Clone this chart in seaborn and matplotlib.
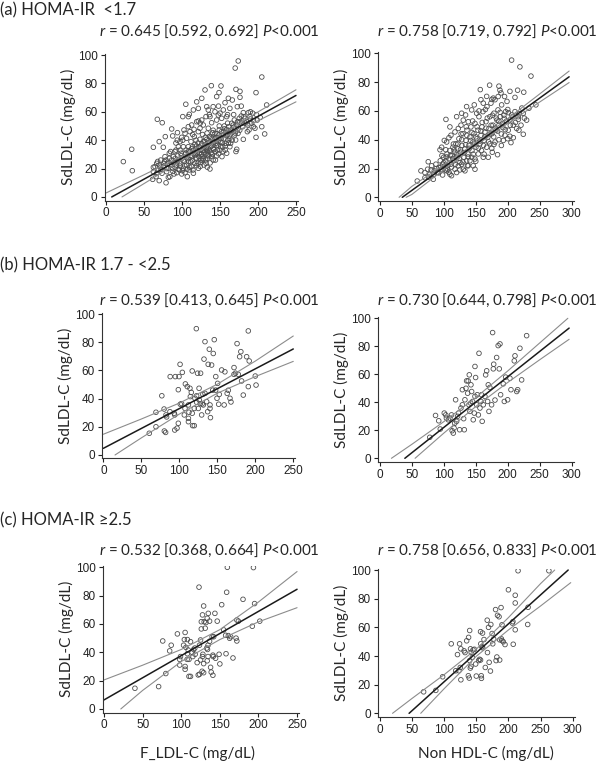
import matplotlib
matplotlib.use("Agg")
import matplotlib.pyplot as plt
import pandas as pd
import seaborn as sns

# ---------------- data ----------------
# (a) HOMA-IR <1.7, F_LDL-C vs SdLDL-C
a1_pts = [
    (174, 95.8), (170, 90.8), (205, 84.5), (22.8, 24.9), (33.8, 33.6), (34.6, 18.5), (67.5, 54.7), (74, 52.3),
    (86.4, 47.9), (62.3, 35), (70, 39), (75.4, 35), (78, 42.5), (87.7, 43), (62.3, 20.9), (61.4, 12.4),
    (65.8, 14.3), (70, 11.5), (79, 10), (82, 13.8), (94, 45.3), (101, 56.6), (105, 65.3), (109.6, 58.2),
    (121.5, 62.4), (121.5, 53.5), (130.3, 75.4), (138.6, 78.4), (151.3, 78.2), (145.6, 70.7), (148.7, 73.5),
    (134.6, 61.3), (141, 63.6), (150, 59), (156.6, 66.4), (161, 69.5), (166.2, 68.3), (171, 75.8), (176.3, 74.4),
    (176.3, 70.2), (172.8, 63.6), (180.7, 59.4), (187.3, 59.4), (190, 60), (193, 59), (197.4, 73.5), (205, 49.5),
    (194, 53.8), (197.4, 42), (208.8, 44.4), (211.4, 64.8), (180.7, 40.6), (171, 32), (172, 33.6), (158.8, 30.8),
    (163, 35.4), (141, 26), (133.3, 21), (136.8, 19.7), (132.5, 33), (125, 26), (118.4, 40), (110.5, 46),
    (106, 41.3), (102.6, 47.2), (97.4, 39), (95.2, 35.4), (92, 33), (88.6, 28.4), (86.4, 26), (84.2, 22.5),
    (82, 20.2), (79.8, 17.8), (75.4, 21.4), (73.7, 16.7), (68.9, 19), (66.7, 16.7), (72, 26), (77.6, 28.4),
    (83.3, 30.8), (90.8, 32), (97.4, 33),
    (84, 14.3), (89.5, 16.2), (93, 17.1), (96.5, 19), (99.6, 16.2), (101.8, 20.2), (104, 17.1), (106, 22.5),
    (107, 14.3), (109.6, 19), (111.4, 24.9), (112.7, 21.4), (115, 16.7), (117, 23.7), (119.3, 27.2), (121.5, 20.2),
    (122.8, 30.8), (124.6, 24.2), (126.3, 28.4), (128, 33), (129, 22.5), (130.3, 36.6), (131.6, 30.3), (133.3, 27.2),
    (134.6, 34.3), (136.8, 37.8), (138.2, 30.8), (139.5, 41.3), (141.2, 34.3), (143.4, 44.8), (144.7, 37.8),
    (146.5, 33), (147.8, 41.3), (149, 47.2), (150.9, 39), (152.6, 28.4), (154.4, 43.7), (155.7, 50), (157.9, 37.8),
    (159.6, 43.7), (161.4, 49.5), (163, 41.3), (165.4, 51.9), (167.5, 46), (168.9, 54.2), (170.6, 40.1),
    (174.1, 48.4), (175.4, 55.4), (178.5, 51.9), (181.6, 56.6), (185, 53), (188.2, 47.2), (191.7, 51.9), (196, 48.4),
    (62.3, 17.8), (64.5, 21.4), (66.7, 23.7), (70, 22.5), (72.4, 19.5), (76.3, 23.7), (79, 26), (81, 23.7),
    (83.3, 27.2), (86.4, 22.5), (87.7, 20.2), (89.5, 24.2), (91.2, 27.2), (93, 22.5), (94.3, 28.9), (95.6, 26),
    (97.4, 21.8), (98.7, 30.8), (100, 27.2), (101.8, 35.4), (103, 24.9), (104.4, 30.3), (105.3, 33), (107, 28.4),
    (108.3, 35.4), (108.8, 24.9), (110.5, 31.9), (111.8, 39), (113.2, 28.9), (114, 35.4), (115.4, 33), (116.2, 42.5),
    (117.5, 29.6), (118.9, 35.9), (120.2, 33), (121, 23.7), (122.4, 35.4), (123.7, 40.6), (125, 33), (126, 30.3),
    (127.2, 26), (128, 39), (129.4, 35.4), (130.7, 42), (131.6, 23.7), (132.5, 40.6), (133.8, 31.9), (135, 28.9),
    (136, 42.5), (137.7, 35.4), (139, 28.4), (140.4, 45.3), (142, 39), (143.4, 31.9), (144.7, 42), (145.6, 28.9),
    (147, 36.6), (148.7, 43.7), (150, 33), (151.8, 41.3), (153.5, 35.4), (155.3, 46), (157, 33), (158.8, 47.6),
    (160.5, 40), (162.3, 46), (164, 37.8), (165.8, 47), (167.5, 50.7), (169.3, 43.7), (172, 50.7), (173.7, 44.8),
    (176.3, 53), (179.8, 49.5), (182.9, 55.4), (186.4, 50.7), (189.5, 56.6), (194, 49.5), (199, 54.2),
    (93.8, 40), (99.6, 42), (104, 44.8), (108.3, 49.5), (112.7, 50.7), (115.8, 47.6), (119.3, 53), (121.5, 46),
    (123.7, 48.4), (126, 54.2), (128, 50.7), (131.6, 56.6), (134.6, 48.4), (136.8, 56.6), (139, 52.3), (143.4, 60),
    (145.6, 54.2), (147.8, 57.7), (152.2, 55.4), (154.4, 61.3), (158.8, 56.6), (163, 62.4), (108.3, 56.6),
    (115, 61.3), (119.3, 67), (132.5, 63.6), (126, 69.5),
    (88, 18), (91, 21), (93.5, 25), (95, 19.5), (97, 23.5), (99, 29), (100.5, 18.5), (102, 26), (103.5, 22),
    (105, 31), (106.5, 19.5), (108, 27), (109, 32.5), (110, 21), (111, 29), (112.5, 34), (113.5, 25.5),
    (114.5, 19), (116, 31), (117, 37), (118, 27.5), (119, 22), (120, 31), (121, 38), (122, 28.5), (123, 35),
    (124, 21.5), (125, 30), (126, 37.5), (127, 44), (128, 27), (129, 31.5), (130, 39), (131, 26), (132, 34),
    (133, 45), (134, 29.5), (135, 38.5), (136, 33), (137, 24), (138, 42), (139, 36), (140, 30), (141, 47),
    (142, 33.5), (143, 41), (144, 26), (145, 36), (146, 44.5), (147, 39), (148, 30.5), (149, 50), (150, 42),
    (151, 35.5), (152, 46), (153, 38), (154, 32), (155, 41), (156, 48), (157, 36), (158, 44), (160, 52),
    (161, 38), (162, 43), (164, 47), (166, 40), (168, 49), (170, 45), (173, 53), (176, 47), (178, 57), (183, 52),
    (186, 46), (190, 55), (198, 58), (203, 56), (80, 20), (77, 25), (72, 21), (68, 25), (85, 32), (92, 38),
    (101, 40), (114, 44), (124, 52), (136, 58), (148, 64), (160, 58), (168, 58), (178, 64),
]
a1_fit = [(7.5, 0), (250, 71.5)]
a1_upper = [(0, 2.8), (50, 15.6), (100, 28.8), (150, 43.5), (200, 59.9), (250, 75.5)]
a1_lower = [(21, 0), (50, 9.4), (100, 25.8), (150, 40.5), (200, 53.7), (250, 67)]

# (a) HOMA-IR <1.7, Non HDL-C vs SdLDL-C
a2_pts = [
    (206, 95.3), (219, 90.6), (236.3, 84.2), (244, 64.2), (103.3, 54.1), (64.2, 18.4), (58.4, 11.3), (75.6, 24.7),
    (70.4, 13.6), (83.5, 12.5), (94, 33), (100.7, 39.5), (108, 41.4), (157, 74.8), (171.6, 77.9), (186.2, 77.2),
    (187.8, 74.4), (189.4, 72.5), (203.4, 73.6), (215.4, 74.4), (225, 73), (211.3, 69.4), (201, 58.8), (216.5, 54.1),
    (224.3, 43.8), (217.5, 46.6), (208.7, 41.4), (203.4, 42.4), (200, 40.7), (186.2, 40), (184, 29.6), (178.4, 36.7),
    (175.8, 31.3), (169.5, 27.8), (148.7, 19.5), (146, 21.9), (133, 18.4),
    (70.4, 17.2), (74.6, 19.5), (78.2, 16), (80.9, 21.9), (85, 18.4), (87.6, 23), (90.2, 17.2), (92.3, 20.7),
    (94.4, 25.4), (96.5, 19.5), (98, 23), (99.6, 27.8), (101.7, 21.9), (103.3, 25.4), (104.9, 30.1), (105.9, 19.5),
    (108, 26.6), (109.5, 32.5), (111.1, 23), (112.7, 29), (114.2, 34.8), (115.8, 25.4), (117.4, 31.3), (118.9, 37.2),
    (120.5, 27.8), (122, 33.6), (123.6, 40.7), (125.2, 24.2), (126.8, 31.3), (128.3, 36), (129.9, 44.2), (131.5, 27.8),
    (133, 33.6), (134.6, 39.5), (136.2, 46.6), (137.7, 30.1), (139.3, 36), (140.8, 41.9), (142.4, 48.9), (144, 32.5),
    (145.5, 38.4), (147.1, 44.2), (148.7, 51.3), (150.2, 34.8), (151.8, 40.7), (153.4, 46.6), (154.9, 56),
    (156.5, 37.2), (158.1, 43.1), (159.6, 48.9), (161.2, 59.5), (162.8, 39.5), (164.3, 45.4), (165.9, 52.5),
    (167.5, 63), (169, 41.9), (170.6, 47.8), (172.1, 56), (173.7, 65.4), (175.3, 44.2), (176.9, 50.1), (178.4, 58.4),
    (180, 67.8), (181.5, 46.6), (183.1, 53.6), (184.7, 60.7), (186.2, 50.1), (188.3, 56), (190.4, 64.2),
    (192.5, 48.4), (194.6, 54.8), (196.7, 59.5), (198.8, 66.6), (200.8, 46.6), (203.4, 53.6), (206, 57.2),
    (208.7, 50.1), (211.3, 59.5), (213.9, 47.8), (216.5, 56), (220.7, 50.1), (224.3, 58.4), (229.5, 53.6),
    (233.2, 61.9),
    (104.4, 18.4), (109.5, 16), (117.4, 19.5), (120, 17.2), (122.6, 21.9), (127.8, 23), (130.4, 19.5), (135.6, 25.4),
    (138.2, 21.9), (140.8, 25.4), (143.5, 27.8), (148.7, 26.6), (153.9, 30.1), (159, 32.5), (161.7, 27.8),
    (167, 34.8), (172, 37.2), (180, 38.4), (193, 39.5), (195.6, 43.1),
    (96.5, 34.8), (104.4, 38.4), (111.1, 43.1), (117.4, 45.4), (122.6, 47.8), (126.8, 50.1), (130.4, 53.6),
    (134, 57.2), (138.2, 52.5), (143.5, 60.7), (147.6, 64.2), (151.3, 58.4), (158, 67.8), (161.7, 65.4),
    (167, 70.1), (177.4, 68.9), (120, 56), (127.8, 58.4), (135.6, 63), (109.5, 48.9),
    (92, 17), (95, 21), (98, 15.5), (100, 24), (102, 19), (104, 28), (106, 22), (108, 17.5), (110, 29),
    (112, 21), (114, 27), (116, 33), (118, 23), (120, 29.5), (122, 37), (124, 27), (126, 33), (128, 40),
    (130, 24.5), (132, 31), (134, 36.5), (136, 43), (138, 28), (140, 34), (142, 39.5), (144, 45), (146, 30),
    (148, 37), (150, 42), (152, 49), (154, 34), (156, 39), (158, 46), (160, 52), (162, 36), (164, 42),
    (166, 48), (168, 55), (170, 38.5), (172, 44), (174, 50), (176, 57), (178, 42), (180, 48), (182, 55),
    (184, 46), (186, 53), (188, 59), (190, 44), (192, 51), (194, 57), (196, 47), (198, 53), (200, 61),
    (204, 50), (208, 56), (212, 52), (218, 58), (222, 62), (226, 55), (88, 20), (84, 16), (80, 19), (76, 14),
    (97, 29), (103, 33), (115, 37), (127, 44), (135, 49), (145, 53), (155, 60), (165, 61), (175, 68), (185, 70),
    (195, 70), (112, 15), (125, 19), (137, 22), (150, 25), (163, 30), (175, 34), (190, 36), (205, 38),
]
a2_fit = [(35, 0), (296, 83.7)]
a2_upper = [(30, 0), (50, 7.6), (100, 22.6), (150, 37.9), (200, 54.7), (250, 71.8), (296, 87.7)]
a2_lower = [(41, 0), (50, 2), (100, 19.2), (150, 35.9), (200, 51.3), (250, 66.2), (296, 79.7)]

# (b) HOMA-IR 1.7 - <2.5
b1_pts = [
    (60.5, 15.4), (69.3, 30.3), (69.3, 20), (77, 42), (80, 32.6), (80.3, 17), (82, 16), (83.3, 27), (82.5, 28.4),
    (87.7, 30.7), (88, 55.6), (93.4, 29.6), (94, 28.4), (94.7, 55.6), (94, 17.7), (97, 19), (98.7, 22.5),
    (99.6, 55.6), (98.7, 46.3), (101, 64.3), (101.3, 36), (103, 36.4), (104, 58.6), (106.6, 28.4), (108, 50.4),
    (107.5, 33), (110.5, 48.5), (112, 35.5), (112, 26), (112, 23.6), (114, 47.3), (115.8, 44.4), (114.5, 41.4),
    (112.7, 30.3), (117, 29.6), (117.5, 20.8), (117, 59.6), (119.7, 20.8), (119.7, 33), (120.6, 40.2), (122.4, 89.6),
    (122.8, 42), (122.8, 37.4), (124, 58), (125, 33), (126, 47.3), (126.3, 39), (128, 58), (127.6, 36.4),
    (130, 36.2), (129.4, 28.4), (131, 43), (131.6, 35.5), (132.5, 68), (133.8, 80.4), (133.8, 43.7), (136, 37.8),
    (137.3, 30.7), (138, 64.3), (139.5, 75), (140.4, 35.5), (140.4, 33), (141, 26.5), (142.5, 63.8), (144, 46),
    (144.7, 72), (146, 81.8), (147.8, 46), (148, 55.6), (149.6, 40.2), (150.4, 50.8), (151.8, 36), (152.6, 43),
    (155.7, 60.3), (159, 35.5), (160, 59), (163, 43.7), (164.5, 45.9), (166.7, 40.2), (168, 37.6), (172, 62),
    (172, 57.2), (174, 58), (176, 79), (177.6, 57.2), (179.4, 69.7), (181, 73.3), (182, 52.5), (184.2, 42.5),
    (188.6, 69.7), (190.8, 88), (192, 66.7), (190.8, 48.5), (200, 56), (201, 49.6),
]
b1_fit = [(0, 4.7), (250, 75.2)]
b1_upper = [(0, 14.7), (50, 25.5), (100, 36.8), (150, 50.2), (200, 66.6), (250, 84.4)]
b1_lower = [(15.4, 0), (50, 12.1), (100, 29), (150, 43.8), (200, 55.6), (250, 66.4)]

b2_pts = [
    (78, 15), (87, 30.6), (92, 26.8), (94.4, 20.9), (100.7, 32.3), (103, 31), (104, 28.7), (107, 27.5),
    (109.5, 28.7), (112, 31), (113, 19.7), (114.8, 18), (116, 21.6), (117, 25), (118.4, 41.8), (120, 26.4),
    (121.5, 30), (123, 32.3), (124.7, 20.4), (126.8, 35.9), (129, 38.2), (129, 49), (131, 28.3), (132, 20.4),
    (133, 41.8), (134.6, 50), (135.6, 55.3), (137.2, 46.5), (138, 55.3), (139.8, 59.6), (139.3, 38.2),
    (140.8, 33.5), (142, 39.4), (142.4, 52.5), (143.5, 47.7), (145, 40.6), (146, 27.5), (147.6, 32.3),
    (148.7, 65.6), (148.7, 44.2), (149.7, 57.7), (151.3, 38.2), (152.3, 45.4), (154, 31), (155, 75), (156.5, 35.9),
    (158, 40.6), (159, 45.4), (160, 26.4), (161.7, 38.2), (164.3, 44.2), (165.4, 59.6), (167, 62.5), (168.5, 40.6),
    (169.5, 52.5), (170.6, 33.5), (172, 50.6), (174.7, 38.2), (176.3, 89.8), (177.4, 63.9), (178, 67.2),
    (180, 41.6), (182.6, 72), (185, 80.5), (187.8, 81.7), (186.7, 63.9), (188.8, 45.4), (193, 53.2), (194.6, 40.6),
    (196.7, 58), (199.8, 41.8), (203.4, 57.2), (205, 49), (211.3, 73.2), (210.2, 69.6), (214, 47.7), (215.5, 49),
    (219, 78.6), (221.7, 56), (229.5, 87.6),
]
b2_fit = [(39, 0), (296, 93)]
b2_upper = [(18, 0), (50, 10), (100, 26.2), (150, 43.4), (200, 62.4), (250, 82.4), (294, 100)]
b2_lower = [(55, 0), (100, 18), (150, 37), (200, 54.2), (250, 70.4), (296, 85)]

# (c) HOMA-IR >=2.5
c1_pts = [
    (40, 14.6), (70.7, 15.8), (76, 48), (80, 25), (85, 41), (87, 45), (95, 53), (99, 37), (98, 35), (103, 45),
    (104, 49), (105, 54), (108, 49), (106, 43.5), (109, 41.6), (108, 39), (110, 35), (107.6, 35), (98, 31),
    (105, 30), (105, 28), (110, 23), (112, 23), (112, 47.5), (114, 40), (115, 37), (118, 38.6), (116, 42),
    (117.6, 43), (120.6, 32.7), (123, 86), (123.6, 45), (125, 48.7), (126, 56.5), (126, 61.6), (127.5, 66.4),
    (129, 72.7), (129.7, 61.6), (131, 57), (132, 61), (133.6, 64), (135, 67.5), (136.7, 62), (136.7, 47.8),
    (134.7, 45), (133, 43), (134, 42), (127.5, 37), (128, 38.6), (125, 34.6), (129, 32), (123.6, 24.5), (122, 24),
    (127, 26.6), (129, 25.6), (133.6, 34), (134.7, 37), (138, 29.4), (138.8, 26), (141, 23.8), (141.4, 37),
    (144.5, 35.8), (141, 38), (146.6, 62), (143.6, 67.5), (140, 51), (142, 51), (150, 31.8), (149, 38.6),
    (152.4, 73.6), (155, 55.8), (157.5, 52), (158, 39), (159.7, 100), (158.8, 82.4), (161, 51.8), (162.7, 49.9),
    (164, 51), (167, 36), (171, 50), (172, 48), (172, 62.8), (174, 62), (180, 77.4), (192, 58.4), (193.5, 99.8),
    (195, 74.4), (201.7, 62),
]
c1_fit = [(0, 6.4), (250, 84.5)]
c1_upper = [(0, 20.5), (50, 30.9), (100, 42), (150, 56), (200, 75.5), (250, 97)]
c1_lower = [(21.7, 0), (50, 13.1), (100, 33.5), (150, 49), (200, 61.5), (250, 71.5)]

c2_pts = [
    (68, 15), (87, 16), (97.6, 25.5), (111, 48.5), (120.7, 41), (124, 48.5), (126, 45), (125, 32), (123, 29.7),
    (126, 23.4), (131, 43.6), (132.5, 42.4), (135, 50.6), (138, 53), (139.7, 57.8), (141, 45), (139.7, 36.8),
    (141.8, 32.8), (140.7, 31.6), (137.6, 26.2), (139, 24.6), (142, 42.6), (143.8, 39), (145, 44.3), (147, 44.7),
    (149, 34.4), (150, 26), (153.6, 36.8), (155, 37.7), (156.6, 37.2), (157.7, 26.2), (158, 24.4), (156.6, 57),
    (159.7, 56), (157, 48.5), (158.7, 46.4), (160, 45.7), (162, 51.5), (164, 32), (167.4, 42.4), (167, 65),
    (169, 60), (170, 35.6), (172.6, 62), (172, 29.5), (174.6, 55.7), (175.6, 48.5), (177, 51.8), (180, 72.4),
    (182, 39.3), (183, 68.4), (185.4, 67.4), (186.4, 51.3), (188.5, 73.8), (189, 52), (190, 61.8), (190, 50.8),
    (192, 49.9), (194.7, 48), (186.4, 37.2), (180.8, 36.8), (200, 86.2), (206, 63), (207, 64), (207.5, 48.2),
    (210.6, 82.4), (210.6, 77), (210.6, 58.3), (215, 99.5), (230, 62), (230.6, 74), (263, 99.5), (118, 29.7),
]
c2_fit = [(45.4, 0), (293, 100)]
c2_upper = [(19.6, 0), (50, 10.4), (100, 27), (150, 44.8), (200, 66.8), (250, 90.5), (272, 100)]
c2_lower = [(63.5, 0), (100, 17.2), (150, 39.8), (200, 58.2), (250, 74.9), (297, 91.2)]

row_titles = ["(a) HOMA-IR  <1.7", "(b) HOMA-IR 1.7 - <2.5", "(c) HOMA-IR \u22652.5"]
r_texts = [
    ["0.645 [0.592, 0.692]", "0.758 [0.719, 0.792]"],
    ["0.539 [0.413, 0.645]", "0.730 [0.644, 0.798]"],
    ["0.532 [0.368, 0.664]", "0.758 [0.656, 0.833]"],
]
x_titles = ["F_LDL-C (mg/dL)", "Non HDL-C (mg/dL)"]

# ---------------- drawing ----------------
sns.set_style("ticks")
plt.rcParams["font.family"] = ["Liberation Sans", "DejaVu Sans"]
plt.rcParams["mathtext.fontset"] = "custom"
plt.rcParams["mathtext.it"] = "Lato:italic"
plt.rcParams["mathtext.rm"] = "Lato"

W, H = 600, 763
fig = plt.figure(figsize=(6, 7.63), dpi=100)
LBL = dict(family=["Lato", "DejaVu Sans"], fontsize=11)


def add_ax(l, r, b, t):
    return fig.add_axes([l / W, 1 - b / H, (r - l) / W, (b - t) / H])


panels = [
    (a1_pts, a1_fit, a1_upper, a1_lower, 250, (104.5, 297.5, 200.5, 53.6)),
    (a2_pts, a2_fit, a2_upper, a2_lower, 300, (378, 573.6, 200.9, 51.9)),
    (b1_pts, b1_fit, b1_upper, b1_lower, 250, (101.8, 294.8, 458.5, 312.6)),
    (b2_pts, b2_fit, b2_upper, b2_lower, 300, (378, 573.6, 461.8, 316.9)),
    (c1_pts, c1_fit, c1_upper, c1_lower, 250, (102.5, 298.6, 712.5, 565.9)),
    (c2_pts, c2_fit, c2_upper, c2_lower, 300, (378, 574.6, 716.9, 568.6)),
]

for pts, fit, upper, lower, xmax, box in panels:
    ax = add_ax(*box)
    df = pd.DataFrame(pts, columns=["x", "y"])
    sns.scatterplot(data=df, x="x", y="y", ax=ax, marker="o", s=11,
                    facecolors="none", edgecolor="#4d4d4d", linewidth=0.6)
    for line, col, lw in [(upper, "#8c8c8c", 0.8), (lower, "#8c8c8c", 0.8), (fit, "#1a1a1a", 1.1)]:
        ldf = pd.DataFrame(line, columns=["x", "y"])
        sns.lineplot(data=ldf, x="x", y="y", ax=ax, color=col, lw=lw,
                     sort=False, estimator=None)
    pad = 2 if xmax == 250 else 3
    ax.set_xlim(-pad, xmax + pad)
    ax.set_ylim(-2.5, 101)
    ax.set_xticks(range(0, xmax + 1, 50))
    ax.set_yticks(range(0, 101, 20))
    ax.tick_params(labelsize=8.5, length=3, width=0.8, pad=2, colors="#222222")
    for s in ["left", "bottom"]:
        ax.spines[s].set_linewidth(0.8)
        ax.spines[s].set_color("#333333")
    sns.despine(ax=ax)
    ax.set_xlabel("")
    ax.set_ylabel("SdLDL-C (mg/dL)", **LBL)
    width_px = box[1] - box[0]
    ax.yaxis.set_label_coords(-29 / width_px, 0.5)

title_y = [10, 265, 520]
r_y = [31, 300, 550]
for i in range(3):
    fig.text(0 / W, 1 - title_y[i] / H, row_titles[i], ha="left", va="center",
             family=["Lato", "DejaVu Sans"], fontsize=12)
    for j, cx in enumerate([209, 487]):
        fig.text(cx / W, 1 - r_y[i] / H,
                 "$\\mathit{r}$ = " + r_texts[i][j] + " $\\mathit{P}$<0.001",
                 ha="center", va="center", family=["Lato", "DejaVu Sans"], fontsize=11)

for cx, t in zip([198, 486], x_titles):
    fig.text(cx / W, 1 - 753 / H, t, ha="center", va="center", **LBL)

fig.savefig("out.png", dpi=100)
